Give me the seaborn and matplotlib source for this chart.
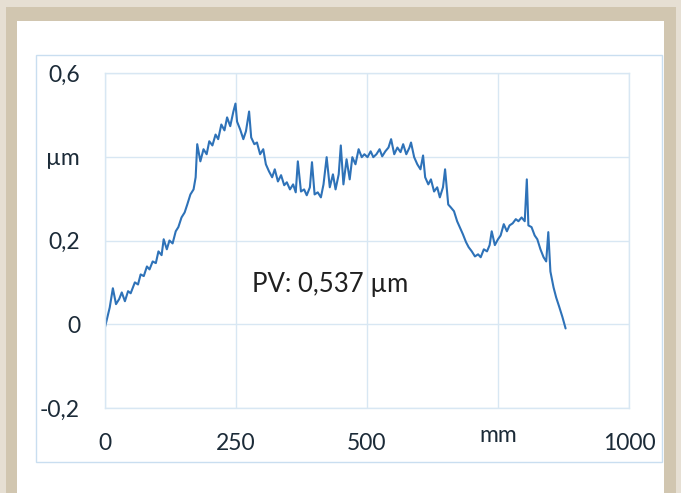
import matplotlib
matplotlib.use("Agg")
import matplotlib.pyplot as plt
import matplotlib.patches as mpatches
import matplotlib.transforms as mtransforms
import seaborn as sns
import pandas as pd

# profile (position in mm, height in um)
pos_mm = [0, 6, 9, 15, 21, 27, 32, 38, 44, 49, 57, 63, 68, 74, 80, 85, 91, 97,
          102, 108, 112, 118, 123, 129, 135, 140, 146, 152, 157, 163, 169, 173,
          176, 182, 188, 194, 199, 205, 211, 216, 222, 228, 233, 239, 245, 249,
          252, 258, 264, 269, 275, 279, 285, 290, 296, 302, 307, 313, 319, 324,
          330, 336, 342, 347, 353, 359, 364, 368, 374, 380, 385, 391, 395, 400,
          406, 412, 417, 423, 429, 435, 440, 446, 450, 455, 461, 467, 472, 478,
          484, 490, 495, 501, 507, 512, 518, 524, 529, 535, 541, 546, 552, 558,
          564, 569, 575, 581, 584, 590, 596, 602, 607, 611, 617, 622, 628, 634,
          639, 645, 649, 655, 660, 666, 672, 677, 683, 689, 694, 700, 706, 712,
          717, 723, 729, 734, 738, 744, 750, 755, 761, 767, 772, 778, 784, 789,
          795, 801, 805, 808, 814, 820, 825, 831, 837, 842, 846, 850, 856, 861,
          867, 873, 879]
height_um = [-0.007, 0.024, 0.040, 0.086, 0.048, 0.060, 0.076, 0.055, 0.079,
             0.074, 0.100, 0.095, 0.119, 0.115, 0.138, 0.131, 0.150, 0.146,
             0.174, 0.165, 0.203, 0.179, 0.200, 0.193, 0.222, 0.232, 0.255,
             0.267, 0.286, 0.310, 0.322, 0.351, 0.430, 0.389, 0.418, 0.406,
             0.437, 0.427, 0.453, 0.442, 0.477, 0.463, 0.494, 0.473, 0.508,
             0.527, 0.484, 0.465, 0.442, 0.461, 0.508, 0.446, 0.430, 0.434,
             0.406, 0.418, 0.382, 0.365, 0.351, 0.370, 0.341, 0.356, 0.332,
             0.339, 0.322, 0.334, 0.315, 0.389, 0.317, 0.322, 0.308, 0.327,
             0.387, 0.310, 0.315, 0.303, 0.334, 0.399, 0.327, 0.358, 0.322,
             0.358, 0.427, 0.334, 0.394, 0.346, 0.399, 0.382, 0.418, 0.399,
             0.406, 0.399, 0.413, 0.399, 0.406, 0.418, 0.401, 0.413, 0.422,
             0.442, 0.406, 0.422, 0.411, 0.430, 0.406, 0.422, 0.434, 0.399,
             0.382, 0.370, 0.403, 0.351, 0.334, 0.346, 0.317, 0.327, 0.303,
             0.327, 0.370, 0.286, 0.279, 0.270, 0.246, 0.232, 0.215, 0.196,
             0.184, 0.174, 0.162, 0.167, 0.160, 0.179, 0.174, 0.189, 0.222,
             0.189, 0.203, 0.212, 0.239, 0.222, 0.236, 0.241, 0.251, 0.246,
             0.255, 0.246, 0.346, 0.236, 0.232, 0.212, 0.203, 0.179, 0.160,
             0.150, 0.220, 0.126, 0.088, 0.064, 0.041, 0.017, -0.010]

x_ticks = [0, 250, 500, 750, 1000]
x_labels = ["0", "250", "500", "", "1000"]
y_ticks = [-0.2, 0, 0.2, 0.4, 0.6]
y_labels = ["-0,2", "0", "0,2", "µm", "0,6"]
pv_text = "PV: 0,537 µm"

df = pd.DataFrame({"mm": pos_mm, "um": height_um})

sns.set_style("white")
plt.rcParams["font.family"] = ["Lato", "DejaVu Sans"]

W, H = 681, 493
fig = plt.figure(figsize=(W / 100, H / 100), dpi=100, facecolor="#e6dfd3")


def px_rect(x0, y0, x1, y1, **kw):
    return mpatches.Rectangle((x0 / W, 1 - y1 / H), (x1 - x0) / W, (y1 - y0) / H,
                              transform=fig.transFigure, zorder=-5, **kw)


fig.patches.append(px_rect(6, 7, 676, 493, facecolor="#d1c6b0", edgecolor="none"))
fig.patches.append(px_rect(17, 21, 664, 493, facecolor="white", edgecolor="none"))
fig.patches.append(px_rect(36, 55, 662, 462, facecolor="none", edgecolor="#c9def0", lw=1))

ax = fig.add_axes([105 / W, 1 - 408 / H, 524 / W, 335 / H])
ax.set_zorder(2)
sns.lineplot(data=df, x="mm", y="um", ax=ax, color="#2e72b8", lw=1.5)

ax.set_xlim(0, 1000)
ax.set_ylim(-0.2, 0.6)
ax.set_xticks(x_ticks)
ax.set_xticklabels(x_labels)
ax.set_yticks(y_ticks)
ax.set_yticklabels(y_labels)
ax.set_xlabel("")
ax.set_ylabel("")
ax.grid(True, color="#d8e7f3", lw=1)
for s in ax.spines.values():
    s.set_color("#d8e7f3")
    s.set_linewidth(1)
ax.tick_params(axis="x", length=0, pad=18, labelsize=16.5, labelcolor="#1c2b38")
ax.tick_params(axis="y", length=0, pad=18, labelsize=16.5, labelcolor="#1c2b38")

# the unit label sits in place of the 750 tick, a little higher
trans = mtransforms.blended_transform_factory(ax.transData, fig.transFigure)
ax.text(750, 1 - 435 / H, "mm", transform=trans, ha="center", va="center",
        fontsize=16.5, color="#1c2b38")

ax.text(430, 0.095, pv_text, ha="center", va="center", fontsize=18.5, color="#202020")

fig.savefig("out.png", dpi=100, facecolor=fig.get_facecolor())
